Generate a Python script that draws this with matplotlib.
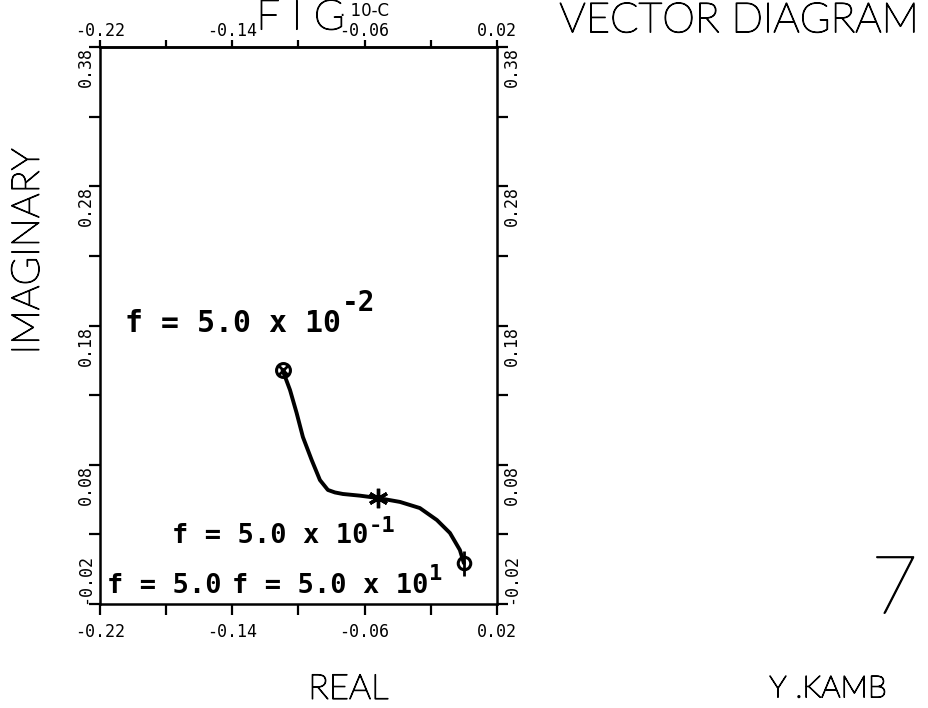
import matplotlib
matplotlib.use("Agg")
import matplotlib.pyplot as plt
import matplotlib.patheffects as pe

# locus of the response vector, read at marked frequencies
real = [-0.1096, -0.1051, -0.1011, -0.0973, -0.0920, -0.0870, -0.0822, -0.0779,
        -0.0731, -0.0628, -0.0519, -0.0386, -0.0266, -0.0163, -0.0084, -0.0024, 0.0000]
imag = [0.148, 0.1337, 0.1172, 0.0999, 0.0834, 0.0690, 0.0619, 0.0601,
        0.0590, 0.0578, 0.0561, 0.0533, 0.0489, 0.0403, 0.0310, 0.0188, 0.0094]

x_ticks = [-0.22, -0.14, -0.06, 0.02]
x_labels = ['-0.22', '-0.14', '-0.06', '0.02']
x_minor = [-0.18, -0.10, -0.02]
y_ticks = [-0.02, 0.08, 0.18, 0.28, 0.38]
y_labels = ['-0.02', '0.08', '0.18', '0.28', '0.38']
y_minor = [0.03, 0.13, 0.23, 0.33]

# frequency labels: (text, exponent, x, baseline y, size, exponent size, rise)
freq_notes = [
    ('f = 5.0 x 10', '-2', -0.2049, 0.1753, 21.5, 20, 15),
    ('f = 5.0 x 10', '-1', -0.1765, 0.0238, 19.5, 16, 8),
    ('f = 5.0', '', -0.2158, -0.0121, 19.5, 16, 0),
    ('f = 5.0 x 10', '1', -0.1402, -0.0121, 19.5, 16, 9),
]

# thin plotter-style lettering
pen = [pe.withStroke(linewidth=0.9, foreground='black')]
thin = dict(family=['Lato', 'DejaVu Sans'], fontweight='light', path_effects=pen)
mono = dict(family=['DejaVu Sans Mono'], fontweight='bold')

fig = plt.figure(figsize=(9.29, 7.08), dpi=100)
ax = fig.add_axes([0.1076, 0.1469, 0.4273, 0.7867])

ax.plot(real, imag, color='black', lw=2.8, solid_capstyle='round')

# markers at the labelled frequencies
ax.plot(real[0], imag[0], 'o', ms=10, mfc='none', mec='black', mew=2.2)
ax.plot(real[0], imag[0], 'x', ms=7, mec='black', mew=2)
ax.plot(real[10], imag[10], marker=(6, 2, 0), ms=14, mec='black', mew=2.4)
ax.plot(real[-1], imag[-1], 'o', ms=9, mfc='none', mec='black', mew=2.2)
ax.plot(real[-1], imag[-1], '|', ms=18, mec='black', mew=2)

ax.set_xlim(-0.22, 0.02)
ax.set_ylim(-0.02, 0.38)
ax.set_xticks(x_ticks)
ax.set_xticklabels(x_labels)
ax.set_xticks(x_minor, minor=True)
ax.set_yticks(y_ticks)
ax.set_yticklabels(y_labels)
ax.set_yticks(y_minor, minor=True)

for sp in ax.spines.values():
    sp.set_linewidth(1.8)

ax.tick_params(which='both', direction='out', length=8, width=1.6,
               right=True, labelright=True)
ax.tick_params(axis='x', which='major', labelsize=12, pad=6)
ax.tick_params(axis='y', which='major', pad=-4, labelsize=12, labelrotation=90)

# top scale sits tight under the title
top = ax.secondary_xaxis('top')
top.set_xticks(x_ticks)
top.set_xticklabels(x_labels)
top.set_xticks(x_minor, minor=True)
top.spines['top'].set_linewidth(1.8)
top.tick_params(which='both', direction='out', length=5, width=1.6)
top.tick_params(which='major', pad=0, labelsize=12)

for t in ax.xaxis.get_major_ticks() + top.xaxis.get_major_ticks():
    t.label1.set_fontfamily(['DejaVu Sans Mono'])
    t.label2.set_fontfamily(['DejaVu Sans Mono'])
for i, t in enumerate(ax.yaxis.get_major_ticks()):
    for lab in (t.label1, t.label2):
        lab.set_fontfamily(['DejaVu Sans Mono'])
        lab.set_va('bottom' if i == 0 else 'top')

# frequency annotations with raised exponents
for txt, exp, x, y, size, esize, rise in freq_notes:
    ax.text(x, y, txt, fontsize=size, ha='left', va='baseline', **mono)
    if exp:
        ax.annotate(exp, (x, y), xytext=(len(txt) * 0.602 * size + 1, rise),
                    textcoords='offset points', fontsize=esize,
                    ha='left', va='baseline', **mono)

fig.text(0.276, 0.974, 'F I G', fontsize=30, ha='left', va='center', **thin)
fig.text(0.366, 0.984, '. 10-C', fontsize=12, ha='left', va='center',
         family=['DejaVu Sans'])
fig.text(0.602, 0.970, 'VECTOR DIAGRAM', fontsize=30, ha='left', va='center', **thin)
fig.text(0.030, 0.645, 'IMAGINARY', fontsize=28, rotation=90,
         ha='center', va='center', **thin)
fig.text(0.375, 0.027, 'REAL', fontsize=25, ha='center', va='center', **thin)
fig.text(0.891, 0.027, 'Y .KAMB', fontsize=22, ha='center', va='center', **thin)
fig.text(0.988, 0.165, '7', fontsize=58, ha='right', va='center', **thin)

fig.savefig('out.png', dpi=100)
